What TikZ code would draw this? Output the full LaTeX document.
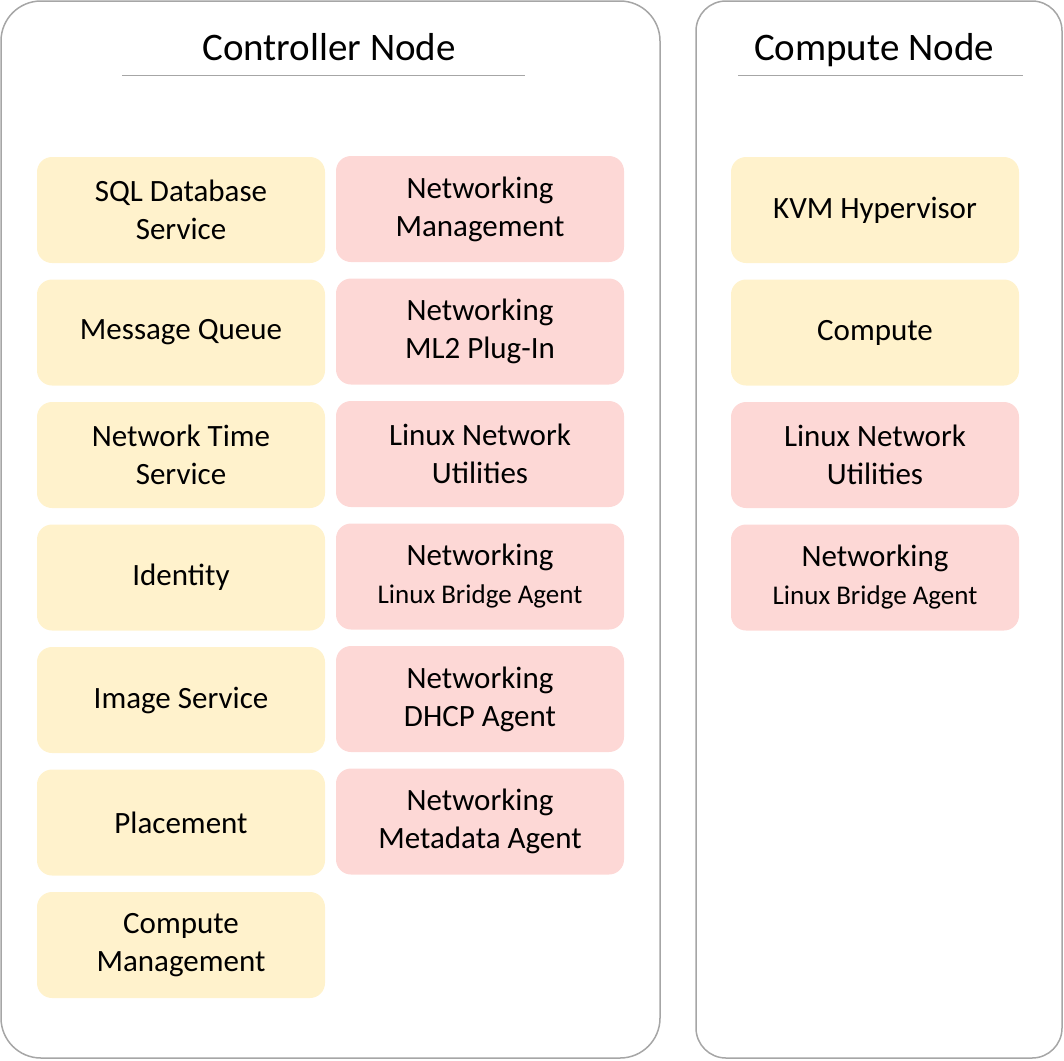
\documentclass[tikz,border=0pt]{standalone}
\usepackage{fontspec}
\setmainfont{Carlito}
\usetikzlibrary{positioning}
\definecolor{yellowbg}{HTML}{FFF2CC}
\definecolor{pinkbg}{HTML}{FDD8D6}
\definecolor{framegray}{HTML}{A6A6A6}
\newcommand{\smalltext}{\fontsize{27}{32}\selectfont}

\begin{document}
\begin{tikzpicture}[x=1pt,y=-1pt,node distance=122.5pt,
                    font=\fontsize{31}{38}\selectfont]
\tikzstyle{svc}=[rounded corners=15pt,minimum width=288pt,minimum height=106pt,
                 align=center,text=black,inner sep=0pt]
\tikzstyle{yel}=[svc,fill=yellowbg]
\tikzstyle{pnk}=[svc,fill=pinkbg]
\tikzstyle{title}=[font=\fontsize{39}{44}\selectfont,anchor=base]
\useasboundingbox (0,0) rectangle (1064,1060);
% frames
\draw[framegray,line width=1.5pt,rounded corners=40pt] (1,1) rectangle (660,1058);
\draw[framegray,line width=1.5pt,rounded corners=30pt] (696,1) rectangle (1062,1058);
\node[title] (ctrl) at (329,60) {Controller Node};
\node[title] (comp) at (874,60) {Compute Node};
\draw[framegray] (122,75) -- (525,75);
\draw[framegray] (738,75) -- (1023,75);
% controller, left column
\node[yel] (sql) at (181,210) {SQL Database\\Service};
\node[yel] (mq) [below of=sql] {Message Queue};
\node[yel] (ntp) [below of=mq] {Network Time\\Service};
\node[yel] (ident) [below of=ntp] {Identity};
\node[yel] (img) [below of=ident] {Image Service};
\node[yel] (place) [below of=img] {Placement};
\node[yel] (cmgmt) [below of=place] {Compute\\Management};
% controller, right column
\node[pnk] (nmgmt) at (480,209) {Networking\\Management};
\node[pnk] (ml2) [below of=nmgmt] {Networking\\ML2 Plug-In};
\node[pnk] (util) [below of=ml2] {Linux Network\\Utilities};
\node[pnk] (lba) [below of=util] {Networking\\{\smalltext Linux Bridge Agent}};
\node[pnk] (dhcp) [below of=lba] {Networking\\DHCP Agent};
\node[pnk] (meta) [below of=dhcp] {Networking\\Metadata Agent};
% compute node
\node[yel] (kvm) at (875,210) {KVM Hypervisor};
\node[yel] (nova) [below of=kvm] {Compute};
\node[pnk] (cutil) [below of=nova] {Linux Network\\Utilities};
\node[pnk] (clba) [below of=cutil] {Networking\\{\smalltext Linux Bridge Agent}};
\end{tikzpicture}
\end{document}
